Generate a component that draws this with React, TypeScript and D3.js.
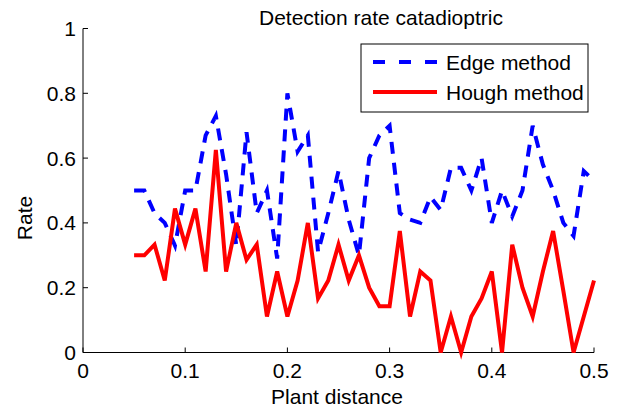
import React from "react";
import * as d3 from "d3";

const distances = [
  0.05, 0.06, 0.07, 0.08, 0.09, 0.1, 0.11, 0.12, 0.13, 0.14, 0.15, 0.16, 0.17, 0.18, 0.19, 0.2,
  0.21, 0.22, 0.23, 0.24, 0.25, 0.26, 0.27, 0.28, 0.29, 0.3, 0.31, 0.32, 0.33, 0.34, 0.35, 0.36,
  0.37, 0.38, 0.39, 0.4, 0.41, 0.42, 0.43, 0.44, 0.45, 0.46, 0.47, 0.48, 0.49, 0.5,
];

const edgeRates = [
  0.5, 0.5, 0.43, 0.4, 0.33, 0.5, 0.5, 0.67, 0.73, 0.55, 0.33, 0.68, 0.43, 0.5, 0.29, 0.8,
  0.62, 0.67, 0.31, 0.43, 0.56, 0.41, 0.3, 0.6, 0.67, 0.7, 0.43, 0.41, 0.4, 0.48, 0.44, 0.57,
  0.57, 0.5, 0.6, 0.4, 0.5, 0.42, 0.5, 0.7, 0.58, 0.5, 0.4, 0.36, 0.56, 0.53,
];

const houghRates = [
  0.3, 0.3, 0.333, 0.222, 0.444, 0.333, 0.444, 0.25, 0.625, 0.25, 0.4, 0.286, 0.333, 0.111, 0.25, 0.111,
  0.222, 0.4, 0.167, 0.222, 0.333, 0.222, 0.3, 0.2, 0.143, 0.143, 0.375, 0.111, 0.25, 0.222, 0, 0.111,
  0, 0.111, 0.167, 0.25, 0, 0.333, 0.2, 0.111, 0.25, 0.375, 0.19, 0, 0.111, 0.222,
];

const xTicks = [0, 0.1, 0.2, 0.3, 0.4, 0.5];
const xTickLabels = ["0", "0.1", "0.2", "0.3", "0.4", "0.5"];
const yTicks = [0, 0.2, 0.4, 0.6, 0.8, 1];
const yTickLabels = ["0", "0.2", "0.4", "0.6", "0.8", "1"];

const seriesNames = ["Edge method", "Hough method"];
const titleText = "Detection rate catadioptric";
const xLabelText = "Plant distance";
const yLabelText = "Rate";

const FONT = "'Liberation Sans', Arial, sans-serif";

export default function App() {
  const x = d3.scaleLinear().domain([0, 0.5]).range([83, 594]);
  const y = d3.scaleLinear().domain([0, 1]).range([352.5, 28.5]);

  const line = d3
    .line<number>()
    .x((_, i) => x(distances[i]))
    .y((d) => y(d));

  const fs = 21;
  const tickLen = 5;

  return (
    <svg
      width={621}
      height={411}
      style={{ position: "absolute", left: 0, top: 0, background: "#fff" }}
      fontFamily={FONT}
    >
      <rect x={0} y={0} width={621} height={411} fill="#fff" />
      {/* axes */}
      <line x1={x(0)} x2={x(0.5)} y1={y(0)} y2={y(0)} stroke="#000" strokeWidth={1} />
      <line x1={x(0)} x2={x(0)} y1={y(0)} y2={y(1)} stroke="#000" strokeWidth={1} />
      {xTicks.map((t, i) => (
        <g key={"xt" + i}>
          <line x1={x(t)} x2={x(t)} y1={y(0)} y2={y(0) - tickLen} stroke="#000" strokeWidth={1} />
          <text x={x(t)} y={378} textAnchor="middle" fontSize={fs} fill="#000">
            {xTickLabels[i]}
          </text>
        </g>
      ))}
      {yTicks.map((t, i) => (
        <g key={"yt" + i}>
          <line x1={x(0)} x2={x(0) + tickLen} y1={y(t)} y2={y(t)} stroke="#000" strokeWidth={1} />
          <text x={76} y={y(t)} dy="0.36em" textAnchor="end" fontSize={fs} fill="#000">
            {yTickLabels[i]}
          </text>
        </g>
      ))}
      {/* series */}
      <path
        d={line(edgeRates) || ""}
        fill="none"
        stroke="#0000ff"
        strokeWidth={4}
        strokeDasharray="12 9"
        strokeLinejoin="miter"
      />
      <path d={line(houghRates) || ""} fill="none" stroke="#ff0000" strokeWidth={4} strokeLinejoin="miter" />
      {/* title and labels */}
      <text x={259} y={25} fontSize={fs} fill="#000">
        {titleText}
      </text>
      <text x={337} y={404} textAnchor="middle" fontSize={fs} fill="#000">
        {xLabelText}
      </text>
      <text transform="translate(32,218) rotate(-90)" textAnchor="middle" fontSize={fs} fill="#000">
        {yLabelText}
      </text>
      {/* legend */}
      <rect x={361} y={44} width={227} height={68} fill="#fff" stroke="#000" strokeWidth={1} />
      <line x1={373} x2={437} y1={62} y2={62} stroke="#0000ff" strokeWidth={4} strokeDasharray="12 14" />
      <text x={446} y={62} dy="0.36em" fontSize={fs} fill="#000">
        {seriesNames[0]}
      </text>
      <line x1={373} x2={437} y1={92} y2={92} stroke="#ff0000" strokeWidth={4} />
      <text x={446} y={92} dy="0.36em" fontSize={fs} fill="#000">
        {seriesNames[1]}
      </text>
    </svg>
  );
}
